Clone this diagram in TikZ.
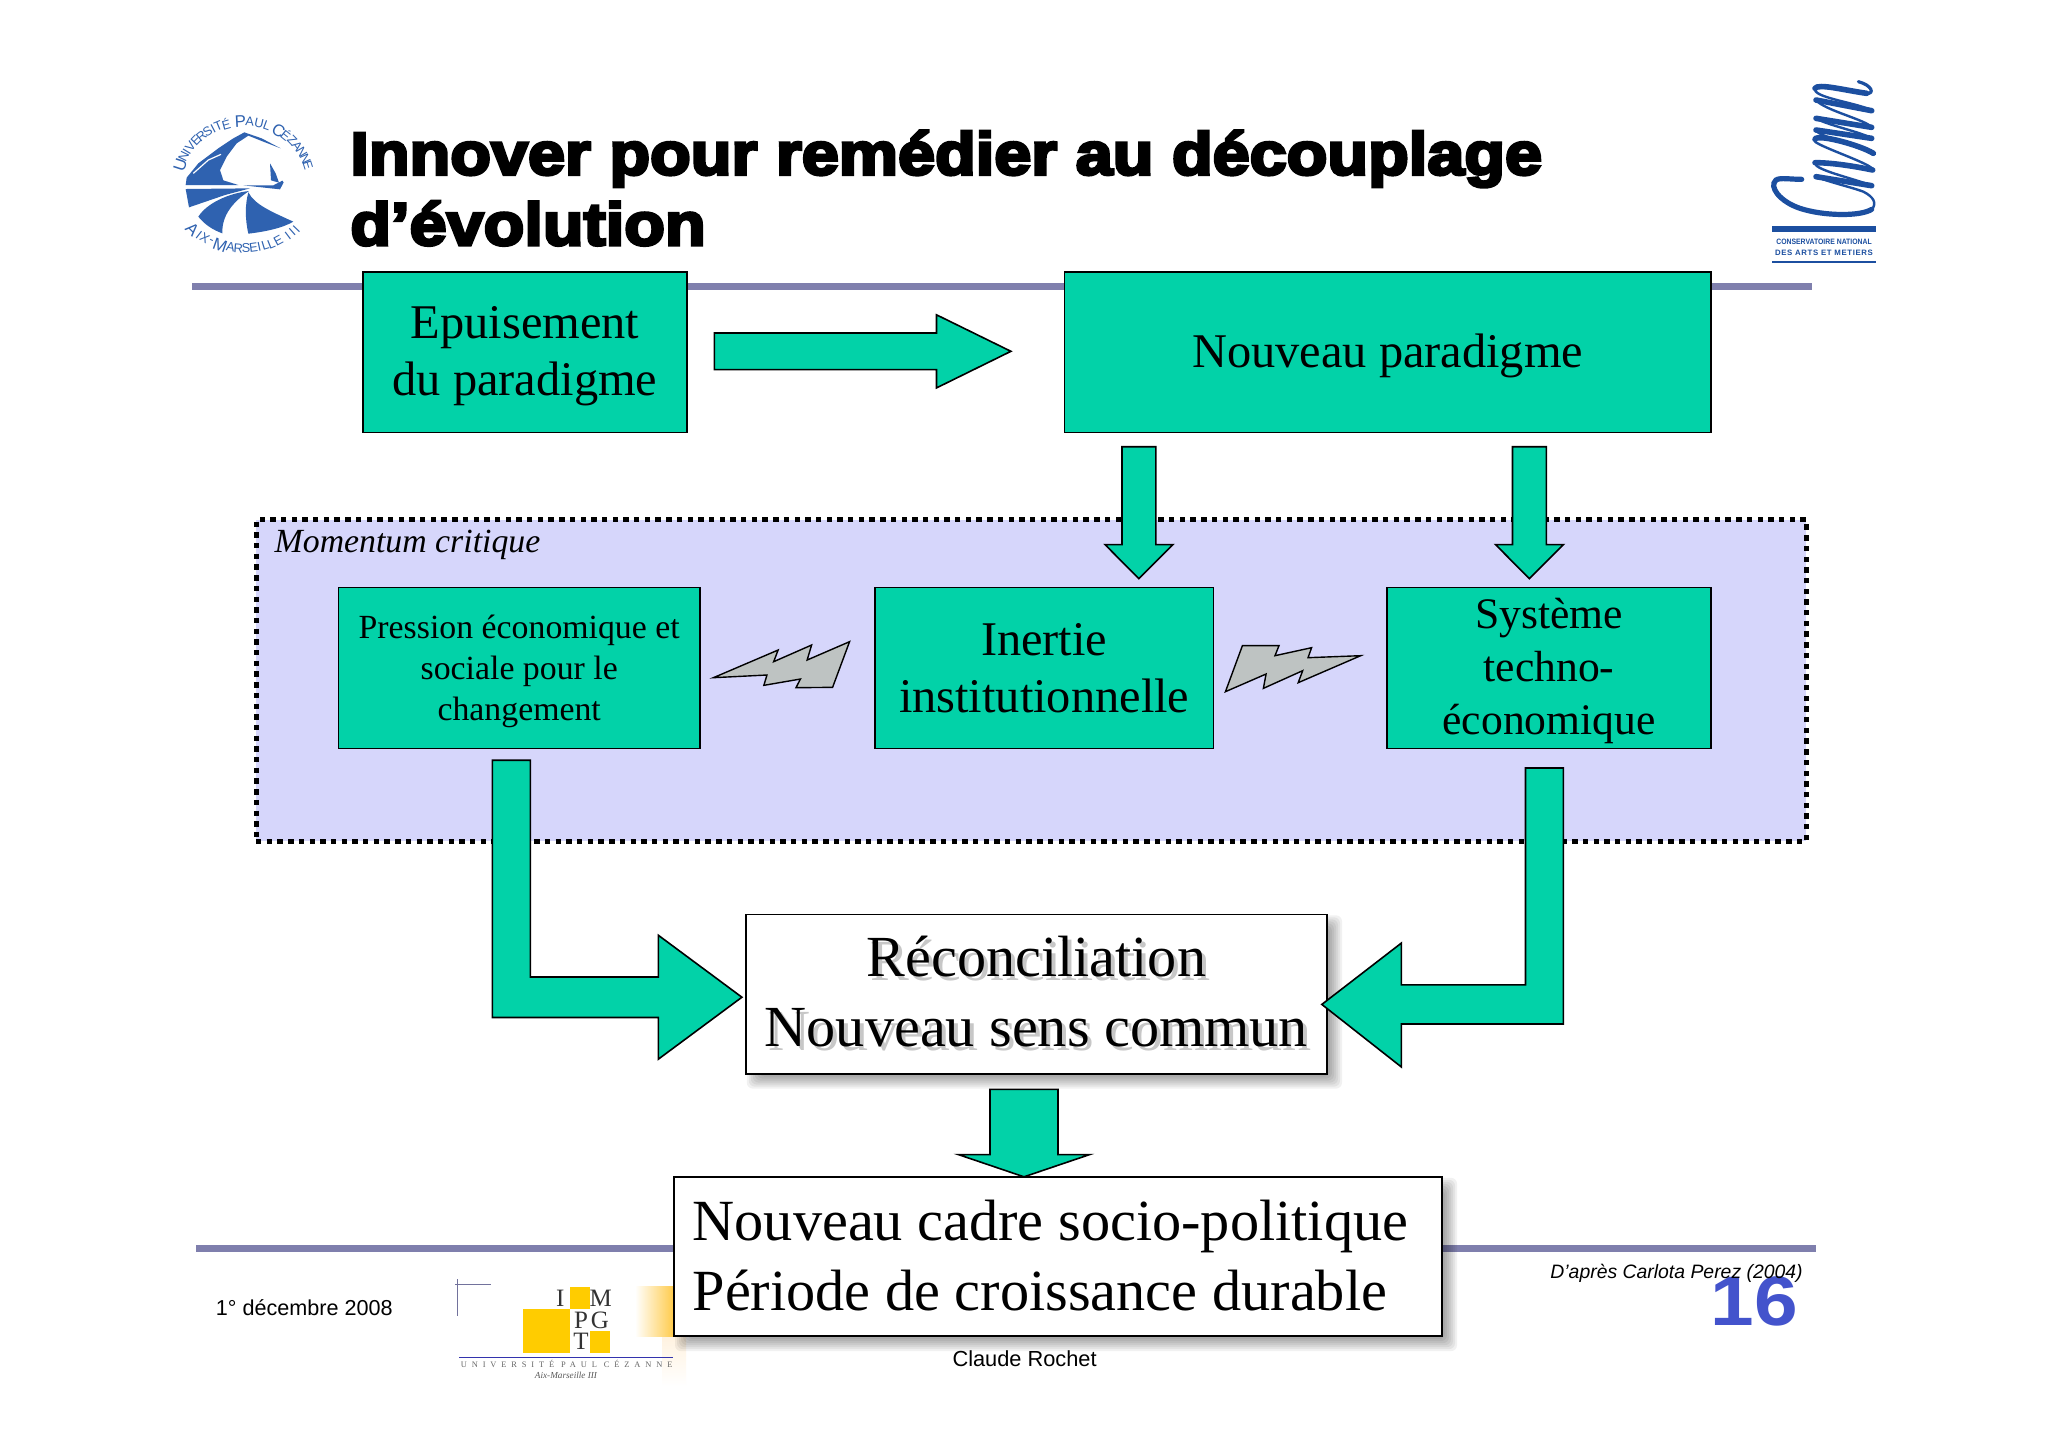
\documentclass[tikz,border=0pt]{standalone}
\usepackage{fontspec}
\setmainfont{Liberation Serif}
\newfontfamily\arial{Liberation Sans}
\newfontfamily\titlef[FakeBold=5,FakeStretch=1.11]{Liberation Sans Bold}
\newfontfamily\lsfont[LetterSpace=58]{Liberation Serif}
\usetikzlibrary{calc}
\definecolor{teal1}{HTML}{02D2A8}
\definecolor{rulec}{HTML}{7F7FAD}
\definecolor{momc}{HTML}{D6D6FB}
\definecolor{boltc}{HTML}{BEC3C2}
\definecolor{logob}{HTML}{2F62B0}
\definecolor{cnamb}{HTML}{1C4FA0}
\definecolor{yel}{HTML}{FFCC00}
\definecolor{pagen}{HTML}{4353CC}
\newcommand{\fs}[2]{\fontsize{#1}{#2}\selectfont}
\newcommand{\softshadow}[4]{%
  \foreach \d in {-3,-1,...,9}{%
    \fill[black,opacity=.055,rounded corners=3pt] (#1+10-\d,#2+10-\d) rectangle (#3+6+\d,#4+6+\d);}}
\tikzset{
  greenbox/.style={draw=black,line width=.8pt,fill=teal1,inner sep=0pt},
  whitebox/.style={draw=black,line width=.8pt,fill=white,inner sep=0pt},
  blockarrow/.style={draw=black,line width=.8pt,fill=teal1,line join=miter},
  bolt/.style={draw=black,line width=.7pt,fill=boltc,line join=miter},
  rulebar/.style={fill=rulec},
  lab/.style={inner sep=0pt,anchor=base west},
  lbl/.style={draw=none,fill=none,inner sep=0pt,align=center},
  bigcap/.style={inner sep=0pt,text=logob,font=\arial\fs{8.4}{9}},
  smallcap/.style={inner sep=0pt,text=logob,font=\arial\fs{6.4}{7}},
}
\begin{document}
\begin{tikzpicture}[x=.5pt,y=-.5pt]
\useasboundingbox (0,0) rectangle (2048,1448);
\fill[white] (0,0) rectangle (2048,1448);

% rules
\fill[rulebar] (192.4,282.5) rectangle (1812,290);
\fill[rulebar] (196.4,1244.5) rectangle (1816,1251.5);

% title
\node[lab] (title1) at (350,174.5) {\titlef\fs{30}{36}Innover pour remédier au découplage};
\node[lab] (title2) at (350,245) {\titlef\fs{30}{36}d’évolution};

% University logo: shapes
\begin{scope}[shift={(165,105)},x=.16667pt,y=-.16667pt]
  \fill[logob] (62,240) -- (65,218) -- (100,175) -- (160,130) -- (205,100) -- (238,82) -- (290,100) -- (347,130) -- (290,108) -- (250,92) -- (215,115) -- (185,155) -- (165,195) -- (175,226) -- (220,240) -- cycle;
  \draw[white,line width=.6pt] (85,205) -- (130,165) -- (168,148);
  \fill[logob] (315,175) -- (318,226) -- (342,233) -- (332,205) -- cycle;
  \fill[logob] (235,241) -- (325,241) -- (352,227) -- (356,232) -- (345,253) -- (290,247) -- cycle;
  \fill[logob] (62,252) -- (255,250) -- (180,270) -- (72,307) -- cycle;
  \fill[logob] (100,335) .. controls (125,295) and (190,265) .. (252,258) .. controls (205,290) and (170,330) .. (172,385) .. controls (145,375) and (120,360) .. (100,335) -- cycle;
  \fill[logob] (250,262) .. controls (270,300) and (320,320) .. (385,350) .. controls (350,370) and (300,380) .. (250,386) .. controls (240,340) and (240,300) .. (250,262) -- cycle;
\end{scope}
% University logo: circular text
\begin{scope}[shift={(244,184.3)},x=.5pt,y=.5pt]
  \foreach \ch/\a/\st [count=\n] in {U/162/bigcap,N/154/smallcap,I/148.5/smallcap,V/143/smallcap,E/136/smallcap,R/129.5/smallcap,S/123/smallcap,I/117.5/smallcap,T/112.5/smallcap,É/105.5/smallcap,P/93/bigcap,A/85/smallcap,U/77/smallcap,L/70/smallcap,C/59/bigcap,É/51/smallcap,Z/44/smallcap,A/37.5/smallcap,N/30.5/smallcap,N/24/smallcap,E/17.5/smallcap}
    \node[\st,rotate=\a-90] (ut\n) at (\a:67 and 63) {\ch};
  \foreach \ch/\a/\st [count=\n] in {A/225/bigcap,I/232/smallcap,X/237.5/smallcap,-/243/smallcap,M/251/bigcap,A/259.5/smallcap,R/265.5/smallcap,S/271.5/smallcap,E/277.5/smallcap,I/282/smallcap,L/287/smallcap,L/292/smallcap,E/298/smallcap,I/307/smallcap,I/311.5/smallcap,I/316/smallcap}
    \node[\st,rotate=\a+90] (ub\n) at (\a:73 and 64) {\ch};
\end{scope}

% Cnam logo
\begin{scope}[shift={(1760,70)},x=.16667pt,y=-.16667pt,draw=cnamb,line cap=round]
  \draw[line width=2.6pt] (125,328) .. controls (90,328) and (60,322) .. (48,330) .. controls (25,350) and (60,395) .. (120,415) .. controls (190,438) and (300,440) .. (335,418);
  \draw[line width=1.2pt] (335,418) .. controls (352,400) and (340,380) .. (310,365) .. controls (270,350) and (200,335) .. (165,318);
  \draw[line width=2.8pt] (168,320) -- (335,347);
  \draw[line width=1.2pt] (335,347) .. controls (280,325) and (165,300) .. (165,280);
  \draw[line width=2.8pt] (165,278) .. controls (220,278) and (290,290) .. (338,300);
  \draw[line width=1.2pt] (338,300) .. controls (345,285) and (190,235) .. (165,215);
  \draw[line width=2.8pt] (165,208) .. controls (170,190) and (300,225) .. (340,250);
  \draw[line width=1.2pt] (340,250) .. controls (300,230) and (180,200) .. (168,182);
  \draw[line width=2.8pt] (168,180) -- (335,205);
  \draw[line width=1.2pt] (335,205) .. controls (300,185) and (200,165) .. (168,145);
  \draw[line width=2.8pt] (168,145) -- (335,172);
  \draw[line width=1.2pt] (335,172) .. controls (320,150) and (190,120) .. (168,90);
  \draw[line width=2.8pt] (168,90) -- (335,122);
  \draw[line width=1.2pt] (335,122) .. controls (300,100) and (170,85) .. (165,60);
  \draw[line width=2.8pt] (165,55) .. controls (175,40) and (250,60) .. (320,70);
  \draw[line width=1.6pt] (320,70) .. controls (345,72) and (335,45) .. (295,35);
\end{scope}
\fill[cnamb] (1772,226) rectangle (1876,232);
\node[lbl] (cnam1) at (1824,242) {\scalebox{.88}[1]{\arial\bfseries\fs{3.9}{4.5}\color{cnamb}CONSERVATOIRE NATIONAL}};
\node[lbl] (cnam2) at (1824,253) {\arial\bfseries\fs{3.9}{4.5}\color{cnamb}\addfontfeature{LetterSpace=8}DES ARTS ET METIERS};
\fill[cnamb] (1772,260.5) rectangle (1876,263);

% Momentum region
\node[draw=black,fill=momc,line width=2.5pt,dash pattern=on 2.7pt off 2.65pt,minimum width=775.2pt,minimum height=160.7pt,inner sep=0pt] (momentum) at (1031.2,680.5) {};
\node[lab] (momlabel) at (274.3,552.5) {\fs{16.9}{20}\itshape Momentum critique};

% Boxes
\node[greenbox,minimum width=162pt,minimum height=80.3pt] (epuis) at (525,352) {};
\node[lbl,font=\fs{24.2}{28.8}] (epuistxt) at ($(epuis)+(0,4)$) {Epuisement\\du paradigme};
\node[greenbox,minimum width=323.3pt,minimum height=80.3pt] (nparad) at (1387.7,352) {};
\node[lbl,font=\fs{24.2}{28.8}] (nparadtxt) at ($(nparad)+(0,4)$) {Nouveau paradigme};
\node[greenbox,minimum width=180.9pt,minimum height=80.4pt] (pression) at (519.2,668) {};
\node[lbl,font=\fs{16.9}{20.55}] (pressiontxt) at ($(pression)+(0,3)$) {Pression économique et\\sociale pour le\\changement};
\node[greenbox,minimum width=169.2pt,minimum height=80.4pt] (inertie) at (1044.2,668) {};
\node[lbl,font=\fs{24.2}{28.8}] (inertietxt) at (inertie) {Inertie\\institutionnelle};
\node[greenbox,minimum width=162pt,minimum height=80.4pt] (systeme) at (1549,668) {};
\node[lbl,font=\fs{21.8}{26.4}] (systemetxt) at ($(systeme)+(0,3)$) {Système\\techno-\\économique};

% Bolts
\begin{scope}[shift={(700,600)},x=.2232pt,y=-.16667pt]
  \draw[bolt] (30,233) -- (175,150) -- (165,185) -- (250,135) -- (240,180) -- (335,125) -- (297,262) -- (215,263) -- (225,237) -- (143,256) -- (150,225) -- cycle;
  \draw[bolt] (1215,137) -- (1297,137) -- (1288,167) -- (1370,143) -- (1362,173) -- (1480,167) -- (1340,248) -- (1350,212) -- (1262,265) -- (1268,222) -- (1177,275) -- cycle;
\end{scope}

% Yellow glow of the IMPGT logo
\shade[left color=white,right color=yel!70!orange!75] (635,1286) rectangle (676,1336);
\shade[top color=yel!30!orange!12,bottom color=white] (662,1337) rectangle (686,1386);

% White boxes
\softshadow{745.8}{914.3}{1327}{1073.6}
\node[whitebox,minimum width=290.6pt,minimum height=79.7pt] (recon) at (1036.4,994) {};
\node[lbl,text=black!22,font=\fs{29.1}{35.2}] (reconsh) at ($(recon)+(4,1.5)$) {Réconciliation\\Nouveau sens commun};
\node[lbl,font=\fs{29.1}{35.2}] (recontxt) at ($(recon)+(0,-2.5)$) {Réconciliation\\Nouveau sens commun};
\softshadow{674}{1176.8}{1442}{1336.1}
\node[whitebox,minimum width=384pt,minimum height=79.7pt] (cadre) at (1058,1256.5) {};
\node[lbl,anchor=west,align=left,font=\fs{29.15}{35.2}] (cadretxt) at (692.2,1255.5) {Nouveau cadre socio-politique\\Période de croissance durable};

% Block arrows
\draw[blockarrow] (714.4,333) -- (936.5,333) -- (936.5,314.8) -- (1010.9,351.3) -- (936.5,387.9) -- (936.5,369.6) -- (714.4,369.6) -- cycle;
\draw[blockarrow] (1122,446.7) -- (1155.9,446.7) -- (1155.9,544.6) -- (1172.9,544.6) -- (1138.9,578.6) -- (1105,544.6) -- (1122,544.6) -- cycle;
\draw[blockarrow] (1512.5,446.7) -- (1546.4,446.7) -- (1546.4,544.6) -- (1563.4,544.6) -- (1529.4,578.6) -- (1495.5,544.6) -- (1512.5,544.6) -- cycle;
\draw[blockarrow] (492.4,760.2) -- (530.3,760.2) -- (530.3,977) -- (658.3,977) -- (658.3,935.2) -- (741.9,997.2) -- (658.3,1059.2) -- (658.3,1017.5) -- (492.4,1017.5) -- cycle;
\draw[blockarrow] (1525.5,768) -- (1563.4,768) -- (1563.4,1024) -- (1401.4,1024) -- (1401.4,1067) -- (1321.8,1004.4) -- (1401.4,943) -- (1401.4,984.8) -- (1525.5,984.8) -- cycle;
\draw[blockarrow] (990,1089.3) -- (1058,1089.3) -- (1058,1154.6) -- (1089.5,1154.6) -- (1024,1176.8) -- (958.5,1154.6) -- (990,1154.6) -- cycle;

% IMPGT logo
\begin{scope}[shift={(450,1270)},x=.16667pt,y=-.16667pt]
  \fill[yel] (360,50) rectangle (420,118);
  \fill[yel] (220,118) rectangle (360,248);
  \fill[yel] (420,182) rectangle (480,248);
  \draw[draw=rulec!90!black,line width=.5pt] (15,42) -- (122,42);
  \draw[draw=rulec!90!black,line width=.5pt] (23,28) -- (23,138);
  \draw[draw=blue!60!black!80,line width=.5pt] (28,262) -- (670,262);
  \node[lbl,text=black!80] (li) at (331,85) {\fs{12.5}{14}I};
  \node[lbl,text=black!80] (lm) at (452,85) {\fs{12.5}{14}M};
  \node[lbl,text=black!80] (lp) at (393,152) {\fs{12.5}{14}P};
  \node[lbl,text=black!80] (lg) at (450,152) {\fs{12.5}{14}G};
  \node[lbl,text=black!80] (lt) at (393,215) {\fs{12.5}{14}T};
  \node[lbl,text=black!60] (upc) at (350,281) {\lsfont\fs{4.2}{5}UNIVERSITÉ PAUL CÉZANNE};
  \node[lbl,text=black!65] (aix) at (348,317) {\fs{4.6}{5}\itshape Aix-Marseille III};
\end{scope}

% Footer
\node[lab,text=pagen] (pagenum) at (1710.5,1325) {\scalebox{1.12}[1]{\arial\bfseries\fs{35}{40}16}};
\node[lab] (source) at (1550,1278) {\arial\itshape\fs{9.7}{11}D’après Carlota Perez (2004)};
\node[lab] (date) at (215.5,1315) {\arial\fs{10.8}{12}1° décembre 2008};
\node[inner sep=0pt,anchor=base] (author) at (1024.6,1366) {\arial\fs{10.9}{12}Claude Rochet};
\end{tikzpicture}
\end{document}
